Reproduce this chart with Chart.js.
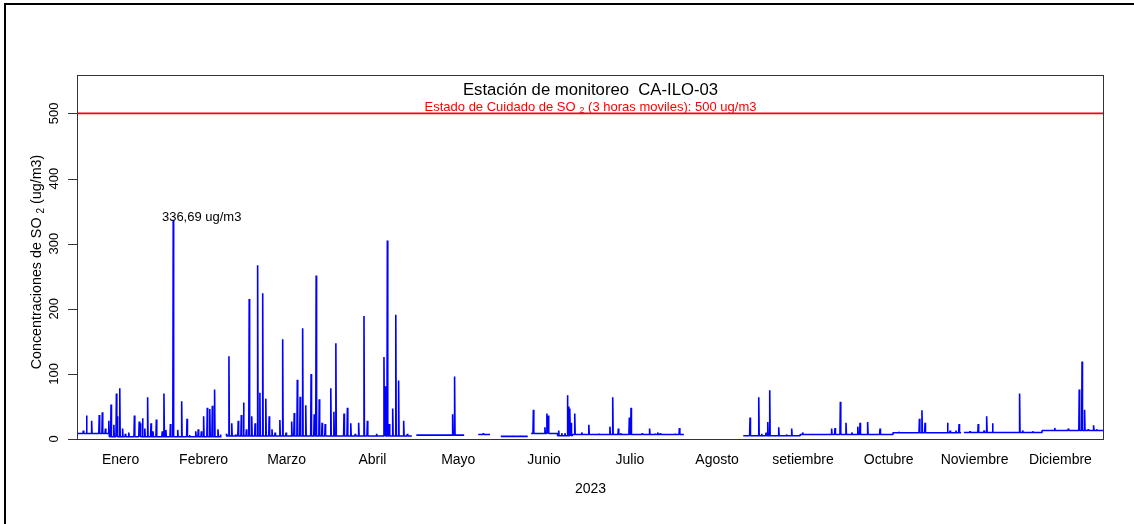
<!DOCTYPE html>
<html>
<head>
<meta charset="utf-8">
<script src="https://cdn.jsdelivr.net/npm/chart.js@4/dist/chart.umd.min.js"></script>
<style>
html,body{margin:0;padding:0;background:#fff;}
#wrap{width:1134px;height:524px;position:relative;}
</style>
</head>
<body>
<div id="wrap"><canvas id="c" width="1134" height="524"></canvas></div>
<script>
// ---- data (x = day of year 2023, y = SO2 ug/m3) ----
const monthLabels = ["Enero","Febrero","Marzo","Abril","Mayo","Junio","Julio","Agosto","setiembre","Octubre","Noviembre","Diciembre"];
const monthMidDays = [15.5,45,74.5,105,135.5,166,196.5,227.5,258,288.5,319,349.5];
const yTickValues = [0,100,200,300,400,500];
const limitValue = 500;

// continuous data segments (start day, end day, background level)
const segStart = [0, 11.5, 53.0, 120.6, 142.6, 150.6, 161.4, 170.8, 176.0, 236.8, 257.0, 290.0, 315.2, 343.0];
const segEnd   = [11.5, 51.3, 119.0, 137.6, 146.8, 160.2, 170.8, 176.0, 215.7, 257.0, 290.0, 314.2, 343.0, 365.0];
const segBase  = [8.5, 3.5, 4.5, 6, 7, 4, 8.5, 5, 7, 5, 7, 9.5, 10, 13];

// peaks (day, value)
const peakDays = [2.25,3.4,5.2,7.9,9.0,10.1,11.3,12.1,13.1,14.0,14.3,15.2,16.2,17.2,18.4,20.4,22.1,22.5,23.3,24.1,25.1,26.3,27.0,28.2,30.3,30.9,31.6,33.2,34.2,35.8,37.2,39.1,40.0,42.2,43.1,44.2,45.0,46.3,47.2,48.1,48.9,50.1,51.0,
53.2,54.0,55.0,56.4,57.3,58.4,59.2,60.2,61.2,62.1,63.3,64.2,65.0,66.0,67.1,68.3,69.3,70.4,72.1,73.1,74.3,76.3,77.2,78.3,79.3,80.2,81.3,83.2,84.3,85.0,86.1,87.1,88.2,90.2,91.3,92.0,94.9,96.1,97.3,98.9,100.1,102.0,103.2,106.5,109.1,109.5,110.3,111.0,112.2,113.3,114.3,116.1,117.4,
133.5,134.2,144.4,154.5,157.4,162.2,166.3,167.0,167.5,171.2,172.3,173.4,174.3,174.8,175.2,175.6,176.9,179.4,181.9,185.5,189.4,190.4,192.4,193.3,196.3,196.9,200.9,203.5,205.4,206.4,207.3,212.5,214.1,
239.2,242.3,243.3,244.9,245.5,246.2,249.4,252.2,254.0,257.9,268.2,269.4,271.3,273.3,275.4,277.5,278.3,281.0,285.4,292.1,299.4,300.3,301.4,309.4,310.3,312.4,313.5,
317.4,320.3,322.4,323.3,325.4,335.0,336.1,339.7,346.4,347.5,352.3,356.2,357.2,358.1,359.4,361.3,362.4];
const peakValues = [13,36,28,37,41,16,28,53,22,70,35,78,16,8,10,36,27,24,32,16,64,24,12,30,12,70,14,23,336.69,14,58,31,6,12,15,12,35,48,46,51,76,15,7,
8,127,24,7,28,37,56,15,215,35,24,267,71,224,62,35,15,10,29,153,10,27,40,91,65,170,52,100,38,251,61,25,23,78,42,147,39,48,24,8,25,189,28,8,126,81,305,23,47,191,90,28,8,
38,96,9,5,5,45,18,39,36,13,9,9,67,50,47,25,39,10,22,8,19,64,16,9,33,48,9,16,8,10,9,8,17,
33,64,8,10,26,75,18,7,16,10,16,17,57,25,10,19,25,26,16,11,31,44,25,25,13,13,23,
12,23,13,35,24,70,13,12,14,17,16,76,119,45,15,21,15];

const maxLabel = "336,69 ug/m3";
const maxDay = 34.2, maxValue = 336.69;

// ---- build the line table from the arrays ----
function buildSeries(){
  const pts = [];
  const half = 0.15;
  for (let i = 0; i < segStart.length; i++){
    const s = segStart[i], e = segEnd[i], b = segBase[i];
    pts.push({x:s, y:b});
    for (let k = 0; k < peakDays.length; k++){
      const d = peakDays[k];
      if (d >= s && d < e){
        pts.push({x:d-half, y:b});
        pts.push({x:d, y:peakValues[k]});
        pts.push({x:d+half, y:b});
      }
    }
    pts.push({x:e, y:b});
    if (i < segStart.length-1 && segStart[i+1] > e + 0.01){
      pts.push({x:(e+segStart[i+1])/2, y:null});
    }
  }
  return pts;
}

const FONT = "'Liberation Sans', Arial, Helvetica, sans-serif";

function richWidth(ctx, parts){
  let w = 0;
  for (const p of parts){ ctx.font = p.size + "px " + FONT; w += ctx.measureText(p.t).width; }
  return w;
}
function drawRich(ctx, parts, cx, y){
  const w = richWidth(ctx, parts);
  let x = cx - w/2;
  ctx.textAlign = 'left';
  ctx.textBaseline = 'alphabetic';
  for (const p of parts){
    ctx.font = p.size + "px " + FONT;
    ctx.fillText(p.t, x, y + (p.dy||0));
    x += ctx.measureText(p.t).width;
  }
}

const decor = {
  id: 'decor',
  afterDraw(chart){
    const ctx = chart.ctx, a = chart.chartArea, xs = chart.scales.x, ys = chart.scales.y;
    ctx.save();
    // outer frame (top and left edges)
    ctx.fillStyle = '#000';
    ctx.fillRect(4, 3, 1130, 2);
    ctx.fillRect(4, 3, 2, 521);
    // plot box
    ctx.strokeStyle = '#333';
    ctx.lineWidth = 1;
    ctx.strokeRect(a.left + 0.5, a.top + 0.5, (a.right - a.left) - 1, (a.bottom - a.top));
    // y ticks and labels
    ctx.fillStyle = '#000';
    for (const v of yTickValues){
      const py = Math.round(ys.getPixelForValue(v)) + 0.5;
      ctx.beginPath();
      ctx.moveTo(a.left - 9, py); ctx.lineTo(a.left, py);
      ctx.strokeStyle = '#333'; ctx.stroke();
      ctx.save();
      ctx.translate(58, ys.getPixelForValue(v));
      ctx.rotate(-Math.PI/2);
      ctx.font = "13px " + FONT;
      ctx.textAlign = 'center';
      ctx.textBaseline = 'alphabetic';
      ctx.fillText(String(v), 0, 0);
      ctx.restore();
    }
    // y axis title
    ctx.save();
    ctx.translate(41, (a.top + a.bottom)/2 + 5);
    ctx.rotate(-Math.PI/2);
    ctx.fillStyle = '#000';
    drawRich(ctx, [
      {t:"Concentraciones de SO ", size:14.3},
      {t:"2", size:10, dy:3},
      {t:" (ug/m3)", size:14.3}
    ], 0, 0);
    ctx.restore();
    // month labels
    ctx.font = "14px " + FONT;
    ctx.textAlign = 'center';
    ctx.textBaseline = 'alphabetic';
    for (let i = 0; i < monthLabels.length; i++){
      ctx.fillText(monthLabels[i], xs.getPixelForValue(monthMidDays[i]), 464);
    }
    // x title
    ctx.fillText("2023", (a.left + a.right)/2, 493);
    // main title
    ctx.font = "16.7px " + FONT;
    ctx.fillText("Estación de monitoreo  CA-ILO-03", (a.left + a.right)/2, 94.5);
    // limit label
    ctx.fillStyle = '#FF0000';
    drawRich(ctx, [
      {t:"Estado de Cuidado de SO ", size:13},
      {t:"2", size:9.5, dy:2.5},
      {t:" (3 horas moviles): 500 ug/m3", size:13}
    ], (a.left + a.right)/2, 110.5);
    // max annotation
    ctx.fillStyle = '#000';
    ctx.font = "13px " + FONT;
    ctx.textAlign = 'left';
    ctx.fillText(maxLabel, xs.getPixelForValue(maxDay) - 11.3, ys.getPixelForValue(maxValue) + 1);
    ctx.restore();
  }
};

new Chart(document.getElementById('c'), {
  type: 'line',
  data: {
    datasets: [
      {
        label: 'SO2',
        data: buildSeries(),
        borderColor: '#0000FF',
        borderWidth: 1.6,
        borderJoinStyle: 'bevel',
        pointRadius: 0,
        tension: 0,
        spanGaps: false,
        fill: false
      },
      {
        label: 'limite',
        data: [{x:0, y:limitValue},{x:365, y:limitValue}],
        borderColor: '#FF0000',
        borderWidth: 1.6,
        pointRadius: 0,
        fill: false
      }
    ]
  },
  options: {
    responsive: false,
    animation: false,
    devicePixelRatio: 1,
    layout: { padding: { left: 77, right: 30, top: 75, bottom: 85 } },
    plugins: { legend: { display: false }, tooltip: { enabled: false }, title: { display: false } },
    scales: {
      x: { type: 'linear', min: 0, max: 365, display: false },
      y: { type: 'linear', min: 0, max: 559, display: false }
    }
  },
  plugins: [decor]
});
</script>
</body>
</html>
